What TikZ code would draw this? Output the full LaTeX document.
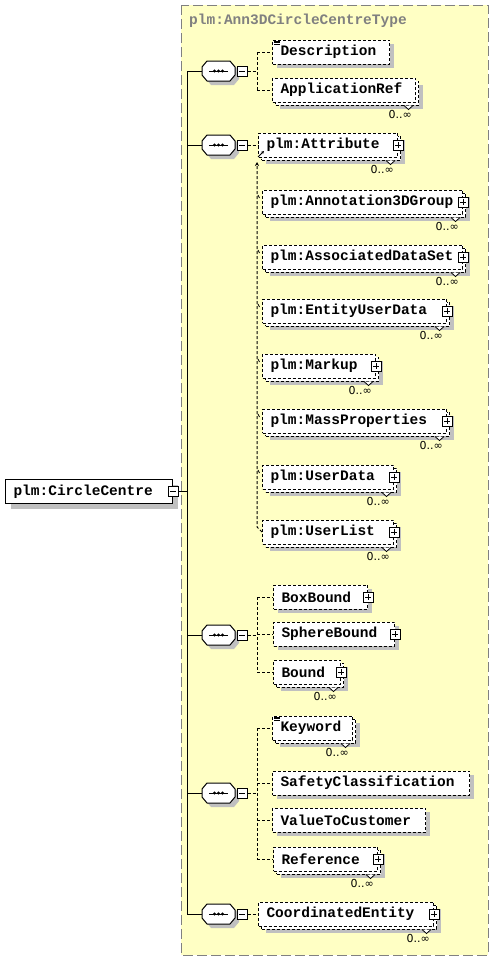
\documentclass[tikz,border=0pt]{standalone}
\usepackage{fontspec}
\setmonofont{Liberation Mono}
\newfontfamily\lblfont{DejaVu Sans}
\usetikzlibrary{shadows,calc,arrows.meta}
\definecolor{bgyellow}{RGB}{255,255,196}
\definecolor{shgray}{RGB}{192,192,192}
\definecolor{frgray}{RGB}{128,128,128}
\tikzset{
  txt/.style={font=\fontsize{14.5}{16}\selectfont\ttfamily\bfseries},
  elbase/.style={rectangle, draw=black, fill=white, line width=1pt, minimum height=24pt,
     inner xsep=8pt, inner ysep=0pt, anchor=west, txt},
  dsh/.style={dash pattern=on 3pt off 2pt},
  single/.style={elbase, dsh, drop shadow={shadow xshift=4pt, shadow yshift=-4pt, fill=shgray, opacity=1}},
  multi/.style={elbase, dsh, drop shadow={shadow xshift=7pt, shadow yshift=-7pt, fill=shgray, opacity=1},
     copy shadow={shadow xshift=3pt, shadow yshift=-3pt, fill=white, draw=black, line width=1pt, dash pattern=on 3pt off 2pt}},
  mainel/.style={elbase, solid, drop shadow={shadow xshift=5pt, shadow yshift=-5pt, fill=shgray, opacity=1}},
  pmbox/.style={rectangle, draw=black, solid, fill=white, minimum size=10pt, inner sep=0pt, line width=1pt},
  plusbox/.style={pmbox, path picture={\draw[line width=0.9pt]
     ([xshift=2pt]path picture bounding box.west) -- ([xshift=-2pt]path picture bounding box.east)
     ([yshift=-2pt]path picture bounding box.north) -- ([yshift=2pt]path picture bounding box.south);}},
  minusbox/.style={pmbox, path picture={\draw[line width=0.9pt]
     ([xshift=2pt]path picture bounding box.west) -- ([xshift=-2pt]path picture bounding box.east);}},
  lbl/.style={font=\lblfont\fontsize{11}{12}\selectfont, inner sep=0pt},
  conn/.style={draw=black, line width=1pt},
  dconn/.style={draw=black, line width=1pt, dsh},
}
\newcommand\seqcomp[2]{%
  \begin{scope}[shift={(202,#2)}]
    \fill[shgray] (4,0) -- (4,8) -- (9,14) -- (32,14) -- (37,8) -- (37,0) -- (32,-6) -- (9,-6) -- cycle;
    \filldraw[fill=white, draw=black, line width=1pt] (0,-4) -- (5,-10) -- (28,-10) -- (33,-4) -- (33,4) -- (28,10) -- (5,10) -- (0,4) -- cycle;
    \draw[line width=1pt] (7,0) -- (26,0);
    \fill (12.5,0) circle (1.7) (16.5,0) circle (1.7) (20.5,0) circle (1.7);
    \node[inner sep=0pt, minimum width=33pt, minimum height=20pt] (#1) at (16.5,0) {};
    \node[minusbox] (#1m) at (40,0) {};
  \end{scope}}
\newcommand\notch[1]{\filldraw[fill=white, draw=black, line width=0.8pt]
  ($(#1.south east)+(-12,3)$) -- ($(#1.south east)+(-7.5,7)$) -- ($(#1.south east)+(-3,3)$);}
\newcommand\mlabel[1]{\node[lbl, anchor=north east] (#1-n) at ($(#1.south east)+(-4,8)$) {0..∞};}
\newcommand\docicon[1]{\draw[line width=0.6pt]
  ($(#1.north west)+(2,1.3)$) -- ++(6,0) ($(#1.north west)+(2,2.8)$) -- ++(6,0) ($(#1.north west)+(2,4.3)$) -- ++(6,0);}
\begin{document}
\begin{tikzpicture}[x=1pt, y=-1pt]
\useasboundingbox (0,0) rectangle (497,961);
% type box
\draw[fill=bgyellow, draw=frgray, line width=1pt, dash pattern=on 10pt off 4pt] (181,5) rectangle (488,955);
\node[txt, text=frgray, anchor=west, inner sep=0pt] (title) at (189,21) {plm:Ann3DCircleCentreType};

% main element
\node[mainel] (main) at (5,491.5) {\makebox[151pt][l]{plm:CircleCentre}};
\node[minusbox] (mainm) at (main.east) {};

% compositors
\seqcomp{c1}{71}
\seqcomp{c2}{145}
\seqcomp{c3}{635}
\seqcomp{c4}{793}
\seqcomp{c5}{914}

% trunk
\coordinate (T) at (187,0);
\draw[conn] (mainm.east) -- (mainm.east -| T);
\draw[conn] (c1.west -| T) -- (c5.west -| T);
\foreach \c in {c1,c2,c3,c4,c5} \draw[conn] (\c.west -| T) -- (\c.west);

% group 1
\node[single] (desc) at (272,52) {\makebox[101pt][l]{Description}};
\node[multi] (appref) at (272,90) {\makebox[127pt][l]{ApplicationRef}};
% group 2
\node[multi] (attr) at (258,145) {\makebox[123pt][l]{plm:Attribute}};
\node[multi] (ann3d) at (262,202) {\makebox[184pt][l]{plm:Annotation3DGroup}};
\node[multi] (assoc) at (262,257) {\makebox[184pt][l]{plm:AssociatedDataSet}};
\node[multi] (eud) at (262,311) {\makebox[168pt][l]{plm:EntityUserData}};
\node[multi] (markup) at (262,366) {\makebox[97pt][l]{plm:Markup}};
\node[multi] (mass) at (262,421) {\makebox[168pt][l]{plm:MassProperties}};
\node[multi] (udata) at (262,477) {\makebox[115pt][l]{plm:UserData}};
\node[multi] (ulist) at (262,532) {\makebox[115pt][l]{plm:UserList}};
% group 3
\node[single] (boxb) at (273,597) {\makebox[78pt][l]{BoxBound}};
\node[single] (sphb) at (273,634) {\makebox[105pt][l]{SphereBound}};
\node[multi] (bound) at (273,672) {\makebox[51pt][l]{Bound}};
% group 4
\node[multi] (kw) at (272,728) {\makebox[64pt][l]{Keyword}};
\node[single] (safety) at (272,783) {\makebox[181pt][l]{SafetyClassification}};
\node[single] (vtc) at (272,820) {\makebox[137pt][l]{ValueToCustomer}};
\node[multi] (ref) at (273,859) {\makebox[88pt][l]{Reference}};
% group 5
\node[multi] (coord) at (258,914) {\makebox[159pt][l]{CoordinatedEntity}};

% plus boxes
\foreach \n in {attr,ann3d,assoc,eud,markup,mass,udata,ulist,boxb,sphb,bound,ref,coord}
  \node[plusbox] (\n-p) at (\n.east) {};
% multiplicity notches and labels
\foreach \n in {appref,attr,ann3d,assoc,eud,markup,mass,udata,ulist,bound,kw,ref,coord}
  {\notch{\n}\mlabel{\n}}
% documentation icons
\docicon{desc}
\docicon{kw}

% dashed connectors
\coordinate (V) at (257,0);
\draw[dconn] (c1m.east) -- (c1m.east -| V);
\draw[dconn] (desc.west -| V) -- (appref.west -| V);
\draw[dconn] (desc.west -| V) -- (desc.west);
\draw[dconn] (appref.west -| V) -- (appref.west);

\draw[dconn] (c2m.east) -- (attr.west);
\coordinate (sgtop) at (257,162);
\draw[dconn, -{Stealth[length=4pt,width=4pt]}] (ulist.west) -- ++(-5,-5) -- (sgtop);
\foreach \n in {ann3d,assoc,eud,markup,mass,udata}
  \draw[line width=0.8pt] ($(\n.west)+(-4,-7)$) -- ($(\n.west)+(-2.5,-4)$);
\coordinate (da1) at (258,157);
\coordinate (da2) at (264,151);
\draw[line width=0.8pt, -{Stealth[length=3pt,width=3pt]}] (da1) -- (da2);

\draw[dconn] (c3m.east) -- (c3m.east -| V);
\draw[dconn] (boxb.west -| V) -- (bound.west -| V);
\foreach \n in {boxb,sphb,bound} \draw[dconn] (\n.west -| V) -- (\n.west);

\draw[dconn] (c4m.east) -- (c4m.east -| V);
\draw[dconn] (kw.west -| V) -- (ref.west -| V);
\foreach \n in {kw,safety,vtc,ref} \draw[dconn] (\n.west -| V) -- (\n.west);

\draw[dconn] (c5m.east) -- (coord.west);
\end{tikzpicture}
\end{document}
